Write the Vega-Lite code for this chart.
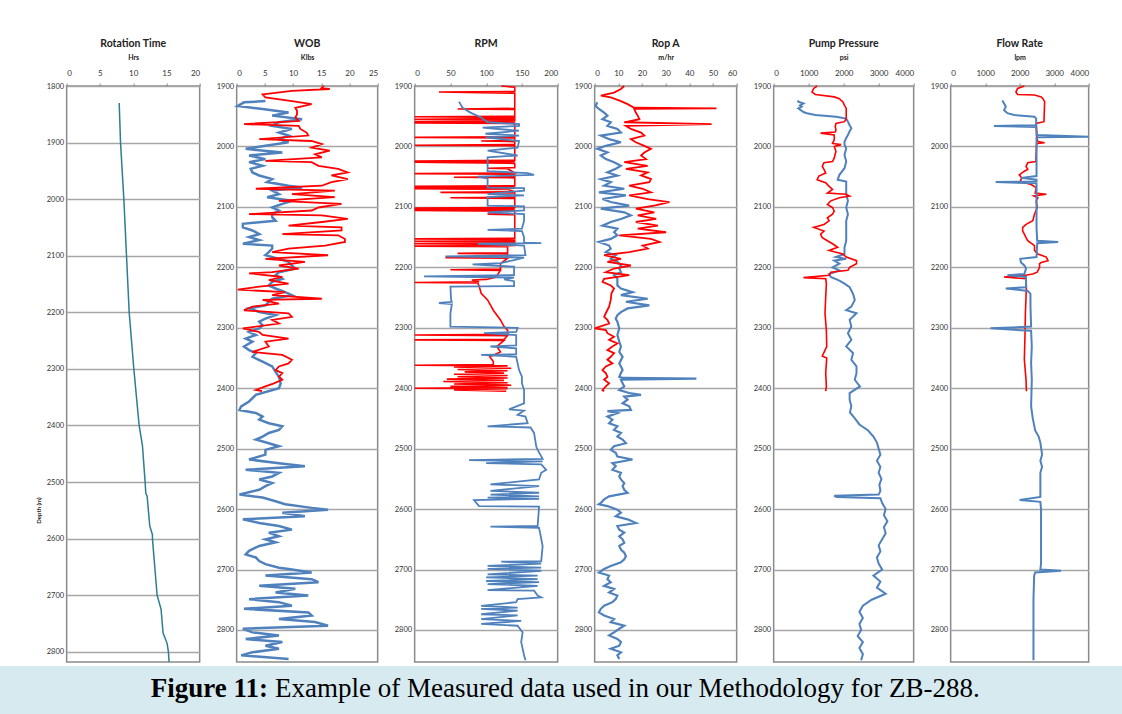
{
  "$schema": "https://vega.github.io/schema/vega-lite/v6.json",
  "background": "white",
  "padding": {"top": 37, "left": 0, "right": 0, "bottom": 0},
  "spacing": 0,
  "center": true,
  "config": {
    "font": "Lato",
    "view": {"stroke": "#8a8a8a", "strokeWidth": 1.5},
    "axis": {"labelFont": "Lato", "labelColor": "#333333", "titleFont": "Lato", "titleFontWeight": "bold", "titleColor": "#222222", "domain": false},
    "axisX": {"grid": false, "labelFontSize": 8, "tickSize": 3, "tickColor": "#888888", "labelPadding": 6, "titleFontSize": 7, "titlePadding": 9},
    "axisY": {"grid": true, "gridColor": "#a6a6a6", "gridWidth": 1.5, "ticks": false, "labelFontSize": 7.5, "labelPadding": 3},
    "title": {"font": "Lato", "fontSize": 10.5, "fontWeight": "bold", "color": "#222222", "offset": 4},
    "line": {"clip": true}
  },
  "datasets": {
    "rot": [{"d":1830,"v":7.9},{"d":1900,"v":8.1},{"d":2000,"v":8.6},{"d":2100,"v":9.0},{"d":2200,"v":9.4},{"d":2300,"v":10.1},{"d":2400,"v":10.9},{"d":2436,"v":11.4},{"d":2500,"v":11.8},{"d":2520,"v":11.9},{"d":2525,"v":12.1},{"d":2578,"v":12.5},{"d":2593,"v":12.9},{"d":2600,"v":12.9},{"d":2700,"v":13.6},{"d":2725,"v":14.2},{"d":2767,"v":14.5},{"d":2785,"v":15.1},{"d":2800,"v":15.3},{"d":2818,"v":15.4}],
    "wobR": [{"d":1900,"v":15.5},{"d":1903,"v":15.1},{"d":1905,"v":16.5},{"d":1908,"v":9.8},{"d":1914,"v":4.6},{"d":1919,"v":5.1},{"d":1925,"v":9.8},{"d":1930,"v":13.3},{"d":1936,"v":10.4},{"d":1941,"v":10.7},{"d":1947,"v":10.7},{"d":1952,"v":10.4},{"d":1958,"v":11.0},{"d":1963,"v":1.3},{"d":1966,"v":11.0},{"d":1971,"v":11.3},{"d":1977,"v":12.4},{"d":1982,"v":12.7},{"d":1988,"v":4.0},{"d":1991,"v":13.3},{"d":1996,"v":15.1},{"d":2002,"v":13.3},{"d":2007,"v":16.5},{"d":2013,"v":13.9},{"d":2018,"v":15.1},{"d":2024,"v":5.1},{"d":2026,"v":13.3},{"d":2032,"v":14.5},{"d":2037,"v":18.0},{"d":2043,"v":19.7},{"d":2048,"v":16.8},{"d":2054,"v":19.7},{"d":2059,"v":16.8},{"d":2065,"v":15.1},{"d":2070,"v":3.4},{"d":2073,"v":17.4},{"d":2079,"v":9.8},{"d":2084,"v":17.4},{"d":2090,"v":7.5},{"d":2095,"v":18.6},{"d":2101,"v":14.5},{"d":2106,"v":13.3},{"d":2112,"v":2.2},{"d":2114,"v":15.1},{"d":2120,"v":19.7},{"d":2125,"v":15.1},{"d":2131,"v":9.2},{"d":2134,"v":18.6},{"d":2139,"v":18.6},{"d":2145,"v":8.1},{"d":2147,"v":18.0},{"d":2153,"v":19.2},{"d":2158,"v":19.2},{"d":2164,"v":15.7},{"d":2169,"v":9.2},{"d":2175,"v":6.3},{"d":2180,"v":16.2},{"d":2186,"v":5.1},{"d":2191,"v":12.1},{"d":2197,"v":7.5},{"d":2202,"v":11.0},{"d":2208,"v":6.3},{"d":2210,"v":2.2},{"d":2216,"v":8.1},{"d":2221,"v":5.7},{"d":2227,"v":9.2},{"d":2232,"v":4.0},{"d":2237,"v":0.2},{"d":2241,"v":8.6},{"d":2246,"v":6.3},{"d":2252,"v":15.1},{"d":2254,"v":4.6},{"d":2260,"v":7.5},{"d":2265,"v":2.8},{"d":2271,"v":1.3},{"d":2276,"v":9.2},{"d":2282,"v":9.8},{"d":2287,"v":6.3},{"d":2293,"v":7.5},{"d":2301,"v":1.1},{"d":2307,"v":4.0},{"d":2312,"v":4.6},{"d":2318,"v":9.2},{"d":2323,"v":5.1},{"d":2331,"v":5.7},{"d":2340,"v":2.8},{"d":2345,"v":8.1},{"d":2353,"v":9.8},{"d":2359,"v":9.2},{"d":2364,"v":7.5},{"d":2370,"v":6.9},{"d":2375,"v":8.1},{"d":2381,"v":7.5},{"d":2386,"v":8.1},{"d":2392,"v":6.6},{"d":2397,"v":5.1},{"d":2403,"v":3.4},{"d":2405,"v":4.5}],
    "wobB": [{"d":1925,"v":5.1},{"d":1927,"v":1.3},{"d":1933,"v":0.2},{"d":1938,"v":4.6},{"d":1944,"v":9.2},{"d":1949,"v":6.3},{"d":1955,"v":11.6},{"d":1960,"v":7.5},{"d":1966,"v":6.3},{"d":1971,"v":9.8},{"d":1977,"v":7.5},{"d":1982,"v":9.2},{"d":1988,"v":7.5},{"d":1993,"v":9.2},{"d":1999,"v":5.1},{"d":2004,"v":1.6},{"d":2010,"v":8.1},{"d":2015,"v":2.2},{"d":2021,"v":5.1},{"d":2026,"v":2.2},{"d":2032,"v":4.6},{"d":2037,"v":2.5},{"d":2043,"v":2.8},{"d":2048,"v":4.0},{"d":2054,"v":6.3},{"d":2059,"v":5.4},{"d":2065,"v":9.2},{"d":2068,"v":11.6},{"d":2073,"v":6.3},{"d":2079,"v":7.5},{"d":2084,"v":5.4},{"d":2090,"v":9.8},{"d":2095,"v":8.1},{"d":2101,"v":6.3},{"d":2106,"v":7.5},{"d":2112,"v":6.3},{"d":2117,"v":6.3},{"d":2123,"v":6.9},{"d":2128,"v":1.1},{"d":2134,"v":1.1},{"d":2139,"v":2.8},{"d":2145,"v":4.0},{"d":2150,"v":2.2},{"d":2155,"v":4.0},{"d":2161,"v":1.1},{"d":2164,"v":6.3},{"d":2169,"v":6.3},{"d":2175,"v":5.7},{"d":2180,"v":5.1},{"d":2186,"v":7.5},{"d":2191,"v":9.2},{"d":2197,"v":9.8},{"d":2202,"v":10.4},{"d":2208,"v":7.5},{"d":2213,"v":6.9},{"d":2219,"v":8.1},{"d":2224,"v":6.3},{"d":2230,"v":5.7},{"d":2235,"v":6.9},{"d":2241,"v":8.6},{"d":2246,"v":9.8},{"d":2252,"v":6.3},{"d":2257,"v":5.7},{"d":2263,"v":5.1},{"d":2268,"v":2.2},{"d":2274,"v":4.0},{"d":2279,"v":6.9},{"d":2285,"v":5.1},{"d":2290,"v":4.0},{"d":2296,"v":4.6},{"d":2301,"v":4.0},{"d":2307,"v":2.2},{"d":2312,"v":3.4},{"d":2318,"v":1.6},{"d":2323,"v":2.8},{"d":2331,"v":1.3},{"d":2337,"v":2.2},{"d":2342,"v":3.4},{"d":2348,"v":2.8},{"d":2356,"v":4.6},{"d":2364,"v":6.3},{"d":2373,"v":6.9},{"d":2381,"v":7.5},{"d":2392,"v":7.8},{"d":2400,"v":7.5},{"d":2411,"v":3.4},{"d":2422,"v":2.2},{"d":2430,"v":0.8},{"d":2436,"v":0.5},{"d":2441,"v":3.4},{"d":2447,"v":4.6},{"d":2452,"v":4.0},{"d":2458,"v":5.7},{"d":2463,"v":8.1},{"d":2469,"v":7.5},{"d":2474,"v":5.7},{"d":2480,"v":4.6},{"d":2485,"v":3.4},{"d":2491,"v":5.7},{"d":2496,"v":7.5},{"d":2502,"v":5.1},{"d":2510,"v":5.1},{"d":2518,"v":2.2},{"d":2524,"v":7.5},{"d":2529,"v":12.1},{"d":2535,"v":1.6},{"d":2540,"v":7.5},{"d":2546,"v":6.3},{"d":2551,"v":4.0},{"d":2557,"v":6.3},{"d":2562,"v":5.1},{"d":2568,"v":4.0},{"d":2576,"v":0.5},{"d":2581,"v":4.6},{"d":2587,"v":6.9},{"d":2592,"v":8.6},{"d":2598,"v":13.3},{"d":2601,"v":16.2},{"d":2606,"v":8.1},{"d":2612,"v":12.1},{"d":2617,"v":1.1},{"d":2623,"v":4.0},{"d":2628,"v":7.5},{"d":2634,"v":9.8},{"d":2639,"v":5.7},{"d":2645,"v":7.5},{"d":2650,"v":5.1},{"d":2655,"v":6.9},{"d":2661,"v":4.0},{"d":2669,"v":2.2},{"d":2675,"v":1.6},{"d":2680,"v":3.4},{"d":2686,"v":4.0},{"d":2691,"v":5.1},{"d":2697,"v":7.5},{"d":2699,"v":9.2},{"d":2705,"v":13.3},{"d":2710,"v":5.1},{"d":2716,"v":13.3},{"d":2721,"v":14.5},{"d":2727,"v":4.0},{"d":2732,"v":10.4},{"d":2738,"v":6.9},{"d":2743,"v":12.7},{"d":2749,"v":2.2},{"d":2754,"v":7.5},{"d":2760,"v":9.8},{"d":2765,"v":1.3},{"d":2771,"v":12.7},{"d":2776,"v":13.3},{"d":2782,"v":7.5},{"d":2787,"v":13.9},{"d":2793,"v":16.2},{"d":2798,"v":1.1},{"d":2804,"v":2.8},{"d":2809,"v":7.5},{"d":2815,"v":1.6},{"d":2820,"v":8.1},{"d":2826,"v":5.1},{"d":2831,"v":7.5},{"d":2837,"v":2.8},{"d":2842,"v":0.8},{"d":2848,"v":9.2}],
    "rpmR": [{"d":1900,"v":121},{"d":1902,"v":140},{"d":1909,"v":140},{"d":1910,"v":34},{"d":1912,"v":140},{"d":1937,"v":140},{"d":1938,"v":60},{"d":1939,"v":140},{"d":1950,"v":140},{"d":1951,"v":0},{"d":1952,"v":140},{"d":1954,"v":140},{"d":1955,"v":0},{"d":1956,"v":140},{"d":1958,"v":140},{"d":1959,"v":0},{"d":1960,"v":140},{"d":1961,"v":0},{"d":1962,"v":140},{"d":1984,"v":140},{"d":1985,"v":0},{"d":1986,"v":140},{"d":1990,"v":140},{"d":1991,"v":93},{"d":1992,"v":140},{"d":1997,"v":140},{"d":1998,"v":0},{"d":1999,"v":140},{"d":2023,"v":140},{"d":2024,"v":0},{"d":2025,"v":140},{"d":2026,"v":0},{"d":2027,"v":60},{"d":2028,"v":140},{"d":2035,"v":140},{"d":2036,"v":102},{"d":2037,"v":130},{"d":2044,"v":140},{"d":2045,"v":0},{"d":2046,"v":140},{"d":2050,"v":140},{"d":2051,"v":55},{"d":2052,"v":140},{"d":2065,"v":140},{"d":2066,"v":0},{"d":2067,"v":140},{"d":2068,"v":0},{"d":2069,"v":140},{"d":2070,"v":0},{"d":2071,"v":130},{"d":2075,"v":140},{"d":2076,"v":36},{"d":2077,"v":140},{"d":2084,"v":140},{"d":2085,"v":50},{"d":2086,"v":140},{"d":2101,"v":140},{"d":2102,"v":0},{"d":2103,"v":140},{"d":2104,"v":0},{"d":2105,"v":140},{"d":2106,"v":0},{"d":2107,"v":140},{"d":2111,"v":140},{"d":2112,"v":102},{"d":2113,"v":140},{"d":2152,"v":140},{"d":2153,"v":0},{"d":2154,"v":140},{"d":2156,"v":140},{"d":2157,"v":0},{"d":2158,"v":140},{"d":2160,"v":140},{"d":2161,"v":0},{"d":2162,"v":140},{"d":2164,"v":140},{"d":2165,"v":0},{"d":2166,"v":130},{"d":2176,"v":130},{"d":2177,"v":60},{"d":2178,"v":130},{"d":2183,"v":130},{"d":2184,"v":43},{"d":2185,"v":130},{"d":2194,"v":120},{"d":2203,"v":120},{"d":2204,"v":50},{"d":2205,"v":120},{"d":2214,"v":115},{"d":2215,"v":78},{"d":2216,"v":115},{"d":2220,"v":100},{"d":2221,"v":80},{"d":2224,"v":90},{"d":2225,"v":0},{"d":2226,"v":88},{"d":2230,"v":90},{"d":2243,"v":93},{"d":2254,"v":102},{"d":2271,"v":110},{"d":2287,"v":120},{"d":2298,"v":125},{"d":2304,"v":130},{"d":2311,"v":130},{"d":2312,"v":0},{"d":2313,"v":130},{"d":2319,"v":125},{"d":2320,"v":0},{"d":2321,"v":125},{"d":2331,"v":115},{"d":2340,"v":120},{"d":2348,"v":105},{"d":2356,"v":110},{"d":2361,"v":110},{"d":2362,"v":0},{"d":2363,"v":130},{"d":2365,"v":55},{"d":2367,"v":135},{"d":2369,"v":60},{"d":2371,"v":130},{"d":2373,"v":70},{"d":2375,"v":125},{"d":2377,"v":55},{"d":2379,"v":130},{"d":2381,"v":60},{"d":2383,"v":130},{"d":2385,"v":45},{"d":2387,"v":125},{"d":2389,"v":40},{"d":2391,"v":130},{"d":2393,"v":55},{"d":2395,"v":135},{"d":2397,"v":50},{"d":2399,"v":130},{"d":2400,"v":0},{"d":2401,"v":130},{"d":2403,"v":55},{"d":2405,"v":128}],
    "rpmB": [{"d":1926,"v":62},{"d":1930,"v":64},{"d":1936,"v":67},{"d":1944,"v":78},{"d":1952,"v":93},{"d":1960,"v":102},{"d":1963,"v":146},{"d":1966,"v":146},{"d":1969,"v":95},{"d":1974,"v":146},{"d":1979,"v":99},{"d":1982,"v":146},{"d":1985,"v":99},{"d":1991,"v":146},{"d":2002,"v":144},{"d":2007,"v":102},{"d":2015,"v":144},{"d":2018,"v":102},{"d":2041,"v":102},{"d":2044,"v":158},{"d":2047,"v":167},{"d":2050,"v":88},{"d":2053,"v":102},{"d":2068,"v":102},{"d":2069,"v":153},{"d":2073,"v":153},{"d":2079,"v":102},{"d":2081,"v":153},{"d":2084,"v":102},{"d":2098,"v":102},{"d":2099,"v":153},{"d":2106,"v":153},{"d":2109,"v":102},{"d":2112,"v":153},{"d":2123,"v":153},{"d":2136,"v":150},{"d":2138,"v":102},{"d":2140,"v":150},{"d":2150,"v":153},{"d":2159,"v":153},{"d":2160,"v":177},{"d":2161,"v":88},{"d":2164,"v":153},{"d":2180,"v":155},{"d":2182,"v":43},{"d":2184,"v":153},{"d":2188,"v":139},{"d":2193,"v":120},{"d":2195,"v":81},{"d":2199,"v":139},{"d":2213,"v":139},{"d":2215,"v":13},{"d":2217,"v":139},{"d":2220,"v":125},{"d":2223,"v":139},{"d":2231,"v":139},{"d":2232,"v":50},{"d":2254,"v":51},{"d":2257,"v":52},{"d":2259,"v":34},{"d":2261,"v":52},{"d":2276,"v":50},{"d":2298,"v":50},{"d":2300,"v":144},{"d":2307,"v":142},{"d":2309,"v":97},{"d":2312,"v":142},{"d":2329,"v":142},{"d":2331,"v":106},{"d":2334,"v":142},{"d":2344,"v":142},{"d":2345,"v":93},{"d":2348,"v":142},{"d":2359,"v":144},{"d":2370,"v":146},{"d":2381,"v":150},{"d":2392,"v":150},{"d":2403,"v":153},{"d":2425,"v":153},{"d":2435,"v":132},{"d":2437,"v":153},{"d":2444,"v":144},{"d":2447,"v":155},{"d":2458,"v":158},{"d":2463,"v":102},{"d":2465,"v":162},{"d":2474,"v":167},{"d":2496,"v":170},{"d":2502,"v":172},{"d":2517,"v":179},{"d":2519,"v":76},{"d":2521,"v":179},{"d":2524,"v":100},{"d":2526,"v":177},{"d":2535,"v":184},{"d":2540,"v":177},{"d":2551,"v":174},{"d":2559,"v":106},{"d":2562,"v":174},{"d":2570,"v":106},{"d":2573,"v":174},{"d":2576,"v":106},{"d":2579,"v":174},{"d":2581,"v":102},{"d":2583,"v":174},{"d":2585,"v":83},{"d":2595,"v":90},{"d":2596,"v":174},{"d":2628,"v":172},{"d":2629,"v":106},{"d":2631,"v":174},{"d":2661,"v":179},{"d":2686,"v":177},{"d":2687,"v":121},{"d":2690,"v":177},{"d":2694,"v":102},{"d":2697,"v":177},{"d":2699,"v":102},{"d":2702,"v":177},{"d":2708,"v":102},{"d":2710,"v":172},{"d":2713,"v":100},{"d":2716,"v":172},{"d":2719,"v":100},{"d":2721,"v":174},{"d":2724,"v":102},{"d":2727,"v":172},{"d":2734,"v":102},{"d":2735,"v":167},{"d":2743,"v":172},{"d":2746,"v":177},{"d":2749,"v":144},{"d":2754,"v":142},{"d":2760,"v":93},{"d":2763,"v":144},{"d":2765,"v":93},{"d":2768,"v":144},{"d":2774,"v":93},{"d":2776,"v":144},{"d":2782,"v":93},{"d":2785,"v":149},{"d":2790,"v":93},{"d":2793,"v":144},{"d":2804,"v":151},{"d":2820,"v":149},{"d":2842,"v":153},{"d":2850,"v":155}],
    "ropR": [{"d":1900,"v":12.5},{"d":1905,"v":11.1},{"d":1911,"v":8.2},{"d":1916,"v":2.6},{"d":1919,"v":6.8},{"d":1925,"v":11.1},{"d":1930,"v":13.9},{"d":1936,"v":16.7},{"d":1937,"v":51.5},{"d":1938,"v":16.7},{"d":1944,"v":17.4},{"d":1949,"v":18.2},{"d":1955,"v":18.9},{"d":1960,"v":12.5},{"d":1963,"v":49.4},{"d":1966,"v":13.2},{"d":1971,"v":15.3},{"d":1977,"v":19.6},{"d":1982,"v":21.0},{"d":1988,"v":15.3},{"d":1993,"v":17.4},{"d":1999,"v":21.0},{"d":2004,"v":23.8},{"d":2010,"v":21.0},{"d":2015,"v":19.6},{"d":2021,"v":21.7},{"d":2026,"v":12.5},{"d":2032,"v":22.4},{"d":2037,"v":13.2},{"d":2043,"v":22.4},{"d":2048,"v":19.6},{"d":2054,"v":23.8},{"d":2059,"v":23.1},{"d":2065,"v":14.6},{"d":2070,"v":20.3},{"d":2076,"v":23.8},{"d":2081,"v":14.6},{"d":2087,"v":22.4},{"d":2092,"v":31.6},{"d":2098,"v":25.2},{"d":2103,"v":17.4},{"d":2109,"v":25.2},{"d":2114,"v":18.2},{"d":2120,"v":26.0},{"d":2125,"v":17.4},{"d":2131,"v":26.7},{"d":2136,"v":18.2},{"d":2142,"v":30.2},{"d":2147,"v":10.4},{"d":2153,"v":23.8},{"d":2158,"v":27.4},{"d":2164,"v":20.3},{"d":2169,"v":22.4},{"d":2175,"v":14.6},{"d":2180,"v":4.0},{"d":2186,"v":11.1},{"d":2191,"v":5.4},{"d":2197,"v":15.3},{"d":2202,"v":8.2},{"d":2208,"v":4.7},{"d":2213,"v":14.6},{"d":2219,"v":4.0},{"d":2224,"v":3.3},{"d":2230,"v":6.8},{"d":2235,"v":8.2},{"d":2243,"v":7.1},{"d":2254,"v":6.8},{"d":2265,"v":6.1},{"d":2276,"v":4.7},{"d":2282,"v":4.0},{"d":2287,"v":5.4},{"d":2293,"v":6.1},{"d":2301,"v":0.0},{"d":2304,"v":4.7},{"d":2309,"v":5.4},{"d":2315,"v":8.2},{"d":2320,"v":6.1},{"d":2326,"v":9.6},{"d":2331,"v":7.5},{"d":2337,"v":5.4},{"d":2342,"v":8.2},{"d":2348,"v":6.8},{"d":2353,"v":5.4},{"d":2359,"v":7.5},{"d":2364,"v":4.7},{"d":2370,"v":3.3},{"d":2375,"v":4.7},{"d":2381,"v":5.4},{"d":2386,"v":4.0},{"d":2392,"v":6.1},{"d":2397,"v":4.7},{"d":2403,"v":3.3},{"d":2405,"v":4.0}],
    "ropB": [{"d":1927,"v":1.1},{"d":1933,"v":0.4},{"d":1938,"v":1.8},{"d":1944,"v":4.0},{"d":1949,"v":5.4},{"d":1955,"v":3.3},{"d":1960,"v":6.8},{"d":1966,"v":5.4},{"d":1971,"v":9.6},{"d":1977,"v":11.1},{"d":1982,"v":2.6},{"d":1988,"v":6.1},{"d":1993,"v":11.1},{"d":1999,"v":4.7},{"d":2004,"v":1.1},{"d":2010,"v":5.4},{"d":2015,"v":2.6},{"d":2021,"v":4.7},{"d":2026,"v":8.2},{"d":2032,"v":11.1},{"d":2037,"v":8.9},{"d":2043,"v":5.4},{"d":2048,"v":9.6},{"d":2054,"v":2.6},{"d":2059,"v":6.8},{"d":2065,"v":4.0},{"d":2070,"v":12.5},{"d":2076,"v":1.8},{"d":2081,"v":13.2},{"d":2087,"v":3.3},{"d":2092,"v":6.8},{"d":2098,"v":14.6},{"d":2103,"v":2.6},{"d":2109,"v":12.5},{"d":2114,"v":15.3},{"d":2120,"v":11.1},{"d":2125,"v":6.8},{"d":2131,"v":3.3},{"d":2136,"v":9.6},{"d":2142,"v":8.2},{"d":2147,"v":9.6},{"d":2153,"v":6.8},{"d":2158,"v":1.8},{"d":2164,"v":6.1},{"d":2169,"v":6.8},{"d":2175,"v":4.7},{"d":2180,"v":8.9},{"d":2186,"v":6.8},{"d":2191,"v":9.6},{"d":2197,"v":11.1},{"d":2202,"v":10.4},{"d":2208,"v":11.1},{"d":2213,"v":8.2},{"d":2219,"v":9.6},{"d":2224,"v":9.6},{"d":2230,"v":9.6},{"d":2235,"v":11.1},{"d":2241,"v":16.0},{"d":2246,"v":11.1},{"d":2252,"v":22.4},{"d":2257,"v":13.2},{"d":2263,"v":23.1},{"d":2268,"v":13.9},{"d":2274,"v":11.1},{"d":2279,"v":9.6},{"d":2285,"v":8.9},{"d":2290,"v":9.6},{"d":2301,"v":10.4},{"d":2312,"v":9.6},{"d":2323,"v":10.4},{"d":2331,"v":11.1},{"d":2340,"v":10.4},{"d":2348,"v":11.8},{"d":2359,"v":10.4},{"d":2364,"v":11.1},{"d":2370,"v":11.8},{"d":2375,"v":11.1},{"d":2381,"v":10.4},{"d":2383,"v":12},{"d":2384,"v":43.0},{"d":2386,"v":11.1},{"d":2392,"v":11.8},{"d":2397,"v":12.5},{"d":2403,"v":10.4},{"d":2408,"v":14.6},{"d":2411,"v":19.6},{"d":2414,"v":12.5},{"d":2419,"v":13.9},{"d":2425,"v":11.8},{"d":2430,"v":14.6},{"d":2436,"v":15.3},{"d":2438,"v":5.4},{"d":2441,"v":9.6},{"d":2447,"v":5.4},{"d":2452,"v":7.5},{"d":2458,"v":6.1},{"d":2463,"v":9.6},{"d":2469,"v":8.2},{"d":2474,"v":11.1},{"d":2480,"v":9.6},{"d":2485,"v":11.8},{"d":2491,"v":13.2},{"d":2496,"v":8.2},{"d":2502,"v":6.8},{"d":2507,"v":8.9},{"d":2513,"v":9.6},{"d":2518,"v":16.0},{"d":2524,"v":7.5},{"d":2529,"v":8.9},{"d":2535,"v":7.5},{"d":2540,"v":11.1},{"d":2546,"v":10.4},{"d":2551,"v":11.1},{"d":2557,"v":12.5},{"d":2562,"v":11.8},{"d":2568,"v":12.5},{"d":2573,"v":13.9},{"d":2579,"v":6.1},{"d":2584,"v":4.0},{"d":2590,"v":2.6},{"d":2592,"v":1.8},{"d":2595,"v":5.4},{"d":2601,"v":9.6},{"d":2606,"v":11.1},{"d":2612,"v":8.9},{"d":2617,"v":13.9},{"d":2623,"v":17.4},{"d":2628,"v":9.6},{"d":2634,"v":10.4},{"d":2639,"v":12.5},{"d":2645,"v":10.4},{"d":2650,"v":11.8},{"d":2656,"v":12.5},{"d":2661,"v":10.4},{"d":2667,"v":11.1},{"d":2672,"v":12.5},{"d":2678,"v":13.2},{"d":2683,"v":12.5},{"d":2688,"v":11.1},{"d":2694,"v":6.8},{"d":2699,"v":4.0},{"d":2705,"v":1.8},{"d":2710,"v":6.1},{"d":2716,"v":5.4},{"d":2721,"v":6.8},{"d":2727,"v":4.0},{"d":2732,"v":8.2},{"d":2738,"v":6.1},{"d":2743,"v":9.6},{"d":2749,"v":8.9},{"d":2754,"v":7.5},{"d":2760,"v":4.0},{"d":2765,"v":2.6},{"d":2771,"v":1.8},{"d":2776,"v":4.0},{"d":2782,"v":8.2},{"d":2787,"v":6.8},{"d":2793,"v":12.5},{"d":2798,"v":10.4},{"d":2804,"v":8.2},{"d":2809,"v":6.1},{"d":2815,"v":9.6},{"d":2820,"v":11.1},{"d":2826,"v":10.4},{"d":2831,"v":6.8},{"d":2837,"v":11.1},{"d":2842,"v":9.6},{"d":2848,"v":10.4}],
    "pumpR": [{"d":1900,"v":1242},{"d":1904,"v":1144},{"d":1910,"v":1095},{"d":1914,"v":1193},{"d":1918,"v":1731},{"d":1921,"v":1878},{"d":1924,"v":1927},{"d":1926,"v":1976},{"d":1932,"v":2024},{"d":1937,"v":2073},{"d":1948,"v":2073},{"d":1954,"v":2073},{"d":1959,"v":2024},{"d":1962,"v":1780},{"d":1967,"v":1760},{"d":1973,"v":1780},{"d":1976,"v":1760},{"d":1978,"v":1340},{"d":1981,"v":1731},{"d":1989,"v":1731},{"d":1995,"v":1682},{"d":1997,"v":1927},{"d":2000,"v":1731},{"d":2008,"v":1780},{"d":2019,"v":1731},{"d":2025,"v":1682},{"d":2027,"v":1438},{"d":2033,"v":1389},{"d":2038,"v":1438},{"d":2044,"v":1487},{"d":2049,"v":1291},{"d":2055,"v":1242},{"d":2060,"v":1487},{"d":2066,"v":1584},{"d":2071,"v":1682},{"d":2077,"v":1535},{"d":2079,"v":2073},{"d":2082,"v":2171},{"d":2085,"v":1878},{"d":2090,"v":1633},{"d":2096,"v":1535},{"d":2101,"v":1682},{"d":2107,"v":1731},{"d":2112,"v":1682},{"d":2118,"v":1535},{"d":2123,"v":1584},{"d":2129,"v":1438},{"d":2134,"v":1144},{"d":2140,"v":1438},{"d":2145,"v":1340},{"d":2151,"v":1389},{"d":2156,"v":1535},{"d":2161,"v":1682},{"d":2167,"v":1829},{"d":2172,"v":1584},{"d":2178,"v":1976},{"d":2183,"v":2073},{"d":2189,"v":2367},{"d":2194,"v":2367},{"d":2200,"v":2171},{"d":2205,"v":2122},{"d":2208,"v":1633},{"d":2213,"v":1584},{"d":2217,"v":851},{"d":2219,"v":1487},{"d":2227,"v":1506},{"d":2249,"v":1487},{"d":2276,"v":1467},{"d":2304,"v":1506},{"d":2331,"v":1516},{"d":2347,"v":1389},{"d":2350,"v":1516},{"d":2375,"v":1487},{"d":2397,"v":1506},{"d":2405,"v":1487}],
    "pumpB": [{"d":1924,"v":685},{"d":1926,"v":704},{"d":1929,"v":851},{"d":1932,"v":753},{"d":1934,"v":802},{"d":1937,"v":704},{"d":1943,"v":851},{"d":1945,"v":949},{"d":1948,"v":1193},{"d":1951,"v":1780},{"d":1954,"v":2073},{"d":1959,"v":2122},{"d":1965,"v":2171},{"d":1970,"v":2220},{"d":1975,"v":2171},{"d":1981,"v":2122},{"d":1986,"v":2073},{"d":1992,"v":2024},{"d":1997,"v":2024},{"d":2003,"v":2073},{"d":2014,"v":2024},{"d":2025,"v":2073},{"d":2036,"v":2024},{"d":2047,"v":1878},{"d":2055,"v":1829},{"d":2058,"v":2073},{"d":2068,"v":2073},{"d":2079,"v":2073},{"d":2090,"v":2122},{"d":2101,"v":2073},{"d":2112,"v":2122},{"d":2123,"v":2073},{"d":2134,"v":2073},{"d":2145,"v":2073},{"d":2156,"v":2073},{"d":2167,"v":2024},{"d":2178,"v":2024},{"d":2183,"v":1780},{"d":2186,"v":2073},{"d":2189,"v":1731},{"d":2194,"v":1878},{"d":2200,"v":1682},{"d":2205,"v":1878},{"d":2211,"v":1584},{"d":2216,"v":1633},{"d":2222,"v":1878},{"d":2227,"v":2024},{"d":2233,"v":2171},{"d":2244,"v":2269},{"d":2254,"v":2318},{"d":2265,"v":2220},{"d":2271,"v":2073},{"d":2276,"v":2367},{"d":2287,"v":2171},{"d":2298,"v":2220},{"d":2309,"v":2122},{"d":2320,"v":2220},{"d":2331,"v":2073},{"d":2342,"v":2269},{"d":2353,"v":2220},{"d":2364,"v":2367},{"d":2375,"v":2367},{"d":2386,"v":2318},{"d":2397,"v":2465},{"d":2408,"v":2171},{"d":2419,"v":2171},{"d":2430,"v":2220},{"d":2440,"v":2180},{"d":2450,"v":2320},{"d":2460,"v":2450},{"d":2470,"v":2700},{"d":2480,"v":2850},{"d":2490,"v":2950},{"d":2500,"v":3000},{"d":2510,"v":3050},{"d":2520,"v":2950},{"d":2530,"v":3050},{"d":2540,"v":3000},{"d":2550,"v":3080},{"d":2560,"v":3020},{"d":2570,"v":3050},{"d":2576,"v":3000},{"d":2578,"v":1730},{"d":2580,"v":1800},{"d":2582,"v":3050},{"d":2590,"v":3100},{"d":2600,"v":3200},{"d":2610,"v":3150},{"d":2620,"v":3250},{"d":2630,"v":3150},{"d":2640,"v":3200},{"d":2650,"v":3100},{"d":2660,"v":3000},{"d":2670,"v":3050},{"d":2680,"v":2950},{"d":2690,"v":3000},{"d":2700,"v":3100},{"d":2710,"v":2850},{"d":2720,"v":3050},{"d":2730,"v":2950},{"d":2740,"v":3200},{"d":2750,"v":2800},{"d":2760,"v":2550},{"d":2770,"v":2450},{"d":2780,"v":2550},{"d":2790,"v":2450},{"d":2800,"v":2500},{"d":2810,"v":2400},{"d":2820,"v":2550},{"d":2830,"v":2450},{"d":2840,"v":2550},{"d":2850,"v":2500}],
    "flowR": [{"d":1900,"v":2137},{"d":1904,"v":1940},{"d":1910,"v":1891},{"d":1914,"v":1940},{"d":1915,"v":2430},{"d":1918,"v":2626},{"d":1921,"v":2675},{"d":1926,"v":2724},{"d":1959,"v":2705},{"d":1962,"v":2479},{"d":1989,"v":2509},{"d":1992,"v":2528},{"d":1994,"v":2724},{"d":1995,"v":2509},{"d":1997,"v":2489},{"d":2025,"v":2470},{"d":2027,"v":2234},{"d":2033,"v":2185},{"d":2038,"v":2234},{"d":2041,"v":2136},{"d":2047,"v":1989},{"d":2052,"v":2058},{"d":2058,"v":2019},{"d":2063,"v":2332},{"d":2068,"v":2479},{"d":2077,"v":2450},{"d":2079,"v":2773},{"d":2082,"v":2411},{"d":2085,"v":2528},{"d":2090,"v":2479},{"d":2101,"v":2509},{"d":2112,"v":2430},{"d":2123,"v":2381},{"d":2129,"v":2185},{"d":2134,"v":2087},{"d":2140,"v":2087},{"d":2145,"v":2136},{"d":2151,"v":2185},{"d":2156,"v":2234},{"d":2164,"v":2430},{"d":2172,"v":2430},{"d":2178,"v":2528},{"d":2183,"v":2773},{"d":2189,"v":2822},{"d":2192,"v":2626},{"d":2194,"v":2577},{"d":2200,"v":2577},{"d":2208,"v":2509},{"d":2211,"v":2381},{"d":2213,"v":2166},{"d":2216,"v":1548},{"d":2219,"v":2185},{"d":2233,"v":2195},{"d":2276,"v":2166},{"d":2309,"v":2156},{"d":2353,"v":2136},{"d":2386,"v":2185},{"d":2405,"v":2195}],
    "flowB": [{"d":1924,"v":1499},{"d":1929,"v":1548},{"d":1934,"v":1597},{"d":1940,"v":1548},{"d":1945,"v":1646},{"d":1948,"v":1842},{"d":1951,"v":2430},{"d":1954,"v":2479},{"d":1965,"v":2479},{"d":1966,"v":1254},{"d":1968,"v":2479},{"d":1981,"v":2489},{"d":1984,"v":3998},{"d":1985,"v":2489},{"d":2036,"v":2489},{"d":2049,"v":2489},{"d":2052,"v":2038},{"d":2055,"v":2489},{"d":2058,"v":2489},{"d":2059,"v":1303},{"d":2061,"v":2489},{"d":2085,"v":2489},{"d":2112,"v":2489},{"d":2134,"v":2489},{"d":2156,"v":2509},{"d":2158,"v":3116},{"d":2160,"v":2509},{"d":2183,"v":2489},{"d":2186,"v":2019},{"d":2192,"v":2038},{"d":2197,"v":2136},{"d":2202,"v":2185},{"d":2211,"v":2136},{"d":2213,"v":1646},{"d":2216,"v":2185},{"d":2233,"v":2185},{"d":2235,"v":1597},{"d":2239,"v":2234},{"d":2244,"v":2313},{"d":2265,"v":2313},{"d":2298,"v":2332},{"d":2301,"v":1156},{"d":2305,"v":2332},{"d":2331,"v":2352},{"d":2358,"v":2332},{"d":2386,"v":2352},{"d":2430,"v":2332},{"d":2450,"v":2380},{"d":2470,"v":2450},{"d":2480,"v":2550},{"d":2490,"v":2600},{"d":2510,"v":2650},{"d":2520,"v":2600},{"d":2530,"v":2650},{"d":2540,"v":2600},{"d":2580,"v":2600},{"d":2585,"v":2000},{"d":2588,"v":2600},{"d":2600,"v":2620},{"d":2690,"v":2620},{"d":2700,"v":2600},{"d":2702,"v":3200},{"d":2705,"v":2450},{"d":2710,"v":2420},{"d":2750,"v":2400},{"d":2800,"v":2400},{"d":2850,"v":2400}]
  },
  "vconcat": [
    {
      "hconcat": [
        {
          "width": 1, "height": 576,
          "data": {"values": [{"z": 0}]},
          "mark": {"type": "point", "opacity": 0},
          "view": {"stroke": null}
        },
        {
          "width": 133, "height": 576, "title": "Rotation Time",
          "data": {"name": "rot"},
          "mark": {"type": "line", "color": "#2b7f8e", "strokeWidth": 1.5},
          "encoding": {
            "x": {"field": "v", "type": "quantitative", "scale": {"domain": [0, 20], "nice": false}, "axis": {"orient": "top", "title": "Hrs", "values": [0, 5, 10, 15, 20]}},
            "y": {"field": "d", "type": "quantitative", "scale": {"domain": [1800, 2818], "reverse": true, "nice": false, "zero": false}, "axis": {"title": "Depth (m)", "titleFontSize": 6, "titlePadding": 5, "titleY": 424, "values": [1800, 1900, 2000, 2100, 2200, 2300, 2400, 2500, 2600, 2700, 2800], "format": "d"}},
            "order": {"field": "d", "type": "quantitative"}
          }
        },
        {
          "width": 141, "height": 576, "title": "WOB",
          "encoding": {
            "x": {"field": "v", "type": "quantitative", "scale": {"domain": [0, 25], "nice": false}, "axis": {"orient": "top", "title": "Klbs", "values": [0, 5, 10, 15, 20, 25]}},
            "y": {"field": "d", "type": "quantitative", "scale": {"domain": [1900, 2853], "reverse": true, "nice": false, "zero": false}, "axis": {"title": null, "values": [1900, 2000, 2100, 2200, 2300, 2400, 2500, 2600, 2700, 2800], "format": "d"}},
            "order": {"field": "d", "type": "quantitative"}
          },
          "layer": [
            {"data": {"name": "wobB"}, "mark": {"type": "line", "color": "#4f81bd", "strokeWidth": 2.5}},
            {"data": {"name": "wobR"}, "mark": {"type": "line", "color": "#ff0000", "strokeWidth": 1.8}}
          ]
        },
        {
          "width": 143, "height": 576, "title": "RPM",
          "encoding": {
            "x": {"field": "v", "type": "quantitative", "scale": {"domain": [0, 200], "nice": false}, "axis": {"orient": "top", "title": "\u00a0", "values": [0, 50, 100, 150, 200]}},
            "y": {"field": "d", "type": "quantitative", "scale": {"domain": [1900, 2853], "reverse": true, "nice": false, "zero": false}, "axis": {"title": null, "values": [1900, 2000, 2100, 2200, 2300, 2400, 2500, 2600, 2700, 2800], "format": "d"}},
            "order": {"field": "d", "type": "quantitative"}
          },
          "layer": [
            {"data": {"name": "rpmR"}, "mark": {"type": "line", "color": "#ff0000", "strokeWidth": 1.6}},
            {"data": {"name": "rpmB"}, "mark": {"type": "line", "color": "#4f81bd", "strokeWidth": 1.8}}
          ]
        },
        {
          "width": 142, "height": 576, "title": "Rop A",
          "encoding": {
            "x": {"field": "v", "type": "quantitative", "scale": {"domain": [0, 60], "nice": false}, "axis": {"orient": "top", "title": "m/hr", "values": [0, 10, 20, 30, 40, 50, 60]}},
            "y": {"field": "d", "type": "quantitative", "scale": {"domain": [1900, 2853], "reverse": true, "nice": false, "zero": false}, "axis": {"title": null, "values": [1900, 2000, 2100, 2200, 2300, 2400, 2500, 2600, 2700, 2800], "format": "d"}},
            "order": {"field": "d", "type": "quantitative"}
          },
          "layer": [
            {"data": {"name": "ropB"}, "mark": {"type": "line", "color": "#4f81bd", "strokeWidth": 2.2}},
            {"data": {"name": "ropR"}, "mark": {"type": "line", "color": "#ff0000", "strokeWidth": 1.8}}
          ]
        },
        {
          "width": 140, "height": 576, "title": "Pump Pressure",
          "encoding": {
            "x": {"field": "v", "type": "quantitative", "scale": {"domain": [0, 4000], "nice": false}, "axis": {"orient": "top", "title": "psi", "values": [0, 1000, 2000, 3000, 4000], "format": "d"}},
            "y": {"field": "d", "type": "quantitative", "scale": {"domain": [1900, 2853], "reverse": true, "nice": false, "zero": false}, "axis": {"title": null, "values": [1900, 2000, 2100, 2200, 2300, 2400, 2500, 2600, 2700, 2800], "format": "d"}},
            "order": {"field": "d", "type": "quantitative"}
          },
          "layer": [
            {"data": {"name": "pumpB"}, "mark": {"type": "line", "color": "#4f81bd", "strokeWidth": 2}},
            {"data": {"name": "pumpR"}, "mark": {"type": "line", "color": "#ff0000", "strokeWidth": 1.6}}
          ]
        },
        {
          "width": 138, "height": 576, "title": "Flow Rate",
          "encoding": {
            "x": {"field": "v", "type": "quantitative", "scale": {"domain": [0, 4000], "nice": false}, "axis": {"orient": "top", "title": "lpm", "values": [0, 1000, 2000, 3000, 4000], "format": "d"}},
            "y": {"field": "d", "type": "quantitative", "scale": {"domain": [1900, 2853], "reverse": true, "nice": false, "zero": false}, "axis": {"title": null, "values": [1900, 2000, 2100, 2200, 2300, 2400, 2500, 2600, 2700, 2800], "format": "d"}},
            "order": {"field": "d", "type": "quantitative"}
          },
          "layer": [
            {"data": {"name": "flowR"}, "mark": {"type": "line", "color": "#ff0000", "strokeWidth": 1.6}},
            {"data": {"name": "flowB"}, "mark": {"type": "line", "color": "#4f81bd", "strokeWidth": 2}}
          ]
        }
      ],
      "spacing": 37,
      "bounds": "flush"
    },
    {
      "width": 1122, "height": 52,
      "view": {"fill": "#d6eaf0", "stroke": null},
      "data": {"values": [{"a": "Figure 11:", "b": "Example of Measured data used in our Methodology for ZB-288."}]},
      "layer": [
        {"mark": {"type": "text", "font": "Liberation Serif", "fontSize": 27, "fontWeight": "bold", "align": "right", "baseline": "middle", "dx": -293, "dy": -3, "color": "#000000"}, "encoding": {"text": {"field": "a"}}},
        {"mark": {"type": "text", "font": "Liberation Serif", "fontSize": 27, "align": "left", "baseline": "middle", "dx": -286, "dy": -3, "color": "#000000"}, "encoding": {"text": {"field": "b"}}}
      ]
    }
  ]
}
